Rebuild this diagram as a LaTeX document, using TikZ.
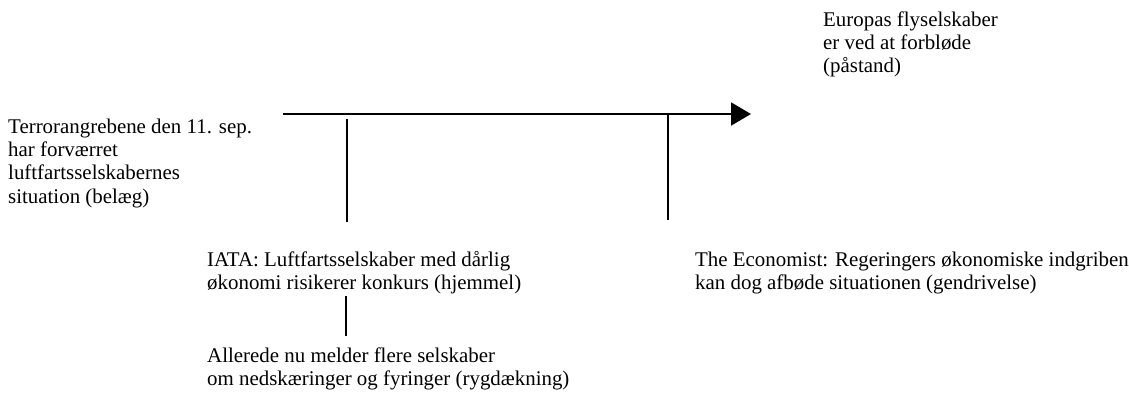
\documentclass[tikz,border=0pt]{standalone}
\usepackage{fontspec}
\setmainfont{Liberation Serif}
\usetikzlibrary{arrows.meta}
\tikzset{
  lbl/.style={anchor=base west, align=left, inner sep=0pt, font=\fontsize{20.9}{23.4}\selectfont},
  conn/.style={line width=2pt},
  mainarrow/.style={line width=2pt, -{Triangle[length=20pt,width=23pt]}}
}
\begin{document}
\begin{tikzpicture}[x=1pt,y=-1pt]
\useasboundingbox (0,0) rectangle (1129,397);
\node[lbl] (claim) at (823,72.8) {Europas flyselskaber\\er ved at forbløde\\(påstand)};
\node[lbl] (data) at (8,203.2) {Terrorangrebene den 11. sep.\\har forværret\\luftfartsselskabernes\\situation (belæg)};
\node[lbl] (warrant) at (207,289.4) {IATA: Luftfartsselskaber med dårlig\\økonomi risikerer konkurs (hjemmel)};
\node[lbl] (backing) at (207,385.4) {Allerede nu melder flere selskaber\\om nedskæringer og fyringer (rygdækning)};
\node[lbl] (rebuttal) at (695,289.4) {The Economist: Regeringers økonomiske indgriben\\kan dog afbøde situationen (gendrivelse)};
\coordinate (astart) at (283,114);
\coordinate (aend) at (751,114);
\coordinate (w1) at (347,119);
\coordinate (w2) at (347,222);
\coordinate (r1) at (668,115);
\coordinate (r2) at (668,220);
\coordinate (b1) at (346,296);
\coordinate (b2) at (346,336);
\draw[mainarrow] (astart) -- (aend);
\draw[conn] (w1) -- (w2);
\draw[conn] (r1) -- (r2);
\draw[conn] (b1) -- (b2);
\end{tikzpicture}
\end{document}
